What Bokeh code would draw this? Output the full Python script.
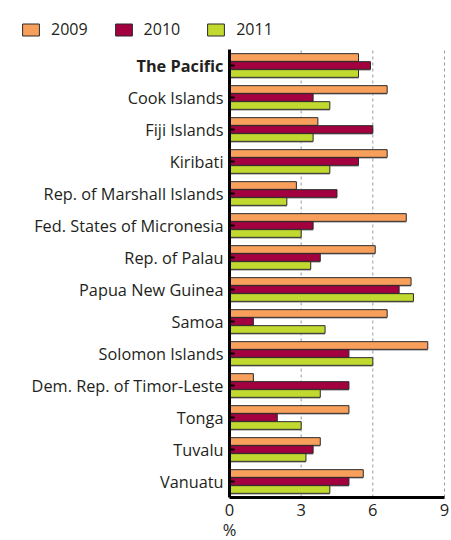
from bokeh.plotting import figure
from bokeh.models import (Range1d, Legend, LegendItem, FixedTicker, LinearAxis,
                          ColumnDataSource)
from bokeh.embed import file_html
from bokeh.resources import INLINE

categories = ["The Pacific", "Cook Islands", "Fiji Islands", "Kiribati",
              "Rep. of Marshall Islands", "Fed. States of Micronesia",
              "Rep. of Palau", "Papua New Guinea", "Samoa", "Solomon Islands",
              "Dem. Rep. of Timor-Leste", "Tonga", "Tuvalu", "Vanuatu"]
years = ["2009", "2010", "2011"]
v2009 = [5.4, 6.6, 3.7, 6.6, 2.8, 7.4, 6.1, 7.6, 6.6, 8.3, 1.0, 5.0, 3.8, 5.6]
v2010 = [5.9, 3.5, 6.0, 5.4, 4.5, 3.5, 3.8, 7.1, 1.0, 5.0, 5.0, 2.0, 3.5, 5.0]
v2011 = [5.4, 4.2, 3.5, 4.2, 2.4, 3.0, 3.4, 7.7, 4.0, 6.0, 3.8, 3.0, 3.2, 4.2]
x_ticks = [0, 3, 6, 9]
x_label = "%"

colors = ["#F89F5B", "#A3003F", "#C2D92F"]
FONT = "Open Sans"
TXT = "#231F20"
FS = "16.3px"

n = len(categories)
ypos = [n - 1 - i for i in range(n)]  # first category at top

# layout geometry (pixels): plot area from x=229..444, y=49..497 in a 451x540 canvas
W, H = 451, 540
PX_L, PX_R, PX_T, PX_B = 229, 444, 49, 497
xmin, xmax = x_ticks[0], x_ticks[-1]
ux = (PX_R - PX_L) / (xmax - xmin)
uy = (PX_B - PX_T) / n
x_range = Range1d(xmin - PX_L / ux, xmax + (W - PX_R) / ux)
y_range = Range1d(-0.5 - (H - PX_B) / uy, n - 0.5 + PX_T / uy)

p = figure(width=W, height=H, output_backend="svg", toolbar_location=None,
           x_range=x_range, y_range=y_range,
           min_border_left=0, min_border_right=0, min_border_top=0,
           min_border_bottom=0)
p.outline_line_color = None
p.grid.visible = False

# dashed grid lines at the x ticks (plot area only)
gx = x_ticks[1:]
p.segment(x0=gx, x1=gx, y0=[-0.5] * len(gx), y1=[n - 0.5] * len(gx),
          line_color="#9a9a9a", line_dash="3 3", line_width=1)

offsets = [0.25, 0.0, -0.25]
series = [v2009, v2010, v2011]
for vals, off in zip(series, offsets):
    src = ColumnDataSource(dict(y=[y + off - 0.05 for y in ypos], right=vals))
    p.hbar(y="y", right="right", left=0, height=0.24, source=src,
           fill_color="#9a9a9a", fill_alpha=0.6, line_color=None)
renderers = []
for vals, off, c in zip(series, offsets, colors):
    src = ColumnDataSource(dict(y=[y + off for y in ypos], right=vals))
    r = p.hbar(y="y", right="right", left=0, height=0.24, source=src,
               fill_color=c, line_color="#2b2b2b", line_width=1)
    renderers.append(r)

# x axis
xa = p.xaxis[0]
xa.fixed_location = -0.5
xa.bounds = (xmin, xmax)
xa.ticker = FixedTicker(ticks=x_ticks)
xa.axis_line_width = 3
xa.axis_line_color = "black"
xa.major_tick_line_color = None
xa.major_tick_out = 0
xa.major_tick_in = 0
xa.minor_tick_line_color = None
xa.major_label_text_font = FONT
xa.major_label_text_font_size = "16.5px"
xa.major_label_text_color = TXT
xa.major_label_standoff = 6

unit_axis = LinearAxis(fixed_location=-0.5, ticker=FixedTicker(ticks=[0]),
                       major_label_overrides={0: x_label},
                       axis_line_color=None, major_tick_line_color=None,
                       major_tick_out=0, major_tick_in=0,
                       minor_tick_line_color=None, major_label_standoff=20,
                       major_label_text_font=FONT, major_label_text_font_size="16.5px",
                       major_label_text_color=TXT)
p.add_layout(unit_axis, "below")

# y axis
labels = {y: c for y, c in zip(ypos, categories)}
labels[ypos[0]] = ""
ya = p.yaxis[0]
ya.fixed_location = 0
ya.bounds = (-0.5, n - 0.5)
ya.ticker = FixedTicker(ticks=ypos)
ya.major_label_overrides = labels
ya.axis_line_width = 3
ya.axis_line_color = "black"
ya.major_tick_in = 5
ya.major_tick_out = 0
ya.major_tick_line_width = 2
ya.major_tick_line_color = "black"
ya.minor_tick_line_color = None
ya.major_label_text_font = FONT
ya.major_label_text_font_size = FS
ya.major_label_text_color = TXT
ya.major_label_standoff = 6

bold_axis = LinearAxis(fixed_location=0, ticker=FixedTicker(ticks=[ypos[0]]),
                       major_label_overrides={ypos[0]: categories[0]},
                       axis_line_color=None, major_tick_line_color=None,
                       major_tick_out=0, major_tick_in=0,
                       minor_tick_line_color=None, major_label_standoff=6,
                       major_label_text_font=FONT, major_label_text_font_size=FS,
                       major_label_text_font_style="bold",
                       major_label_text_color=TXT)
p.add_layout(bold_axis, "left")

legend = Legend(items=[LegendItem(label=y, renderers=[r]) for y, r in zip(years, renderers)],
                orientation="horizontal", location=(20, H - 40),
                glyph_width=21, glyph_height=15, label_height=15,
                label_standoff=10, spacing=25, padding=0, margin=0,
                border_line_color=None, background_fill_alpha=0,
                label_text_font=FONT, label_text_font_size="16px",
                label_text_color=TXT)
p.add_layout(legend)

open("out.html", "w").write(file_html(p, INLINE))
